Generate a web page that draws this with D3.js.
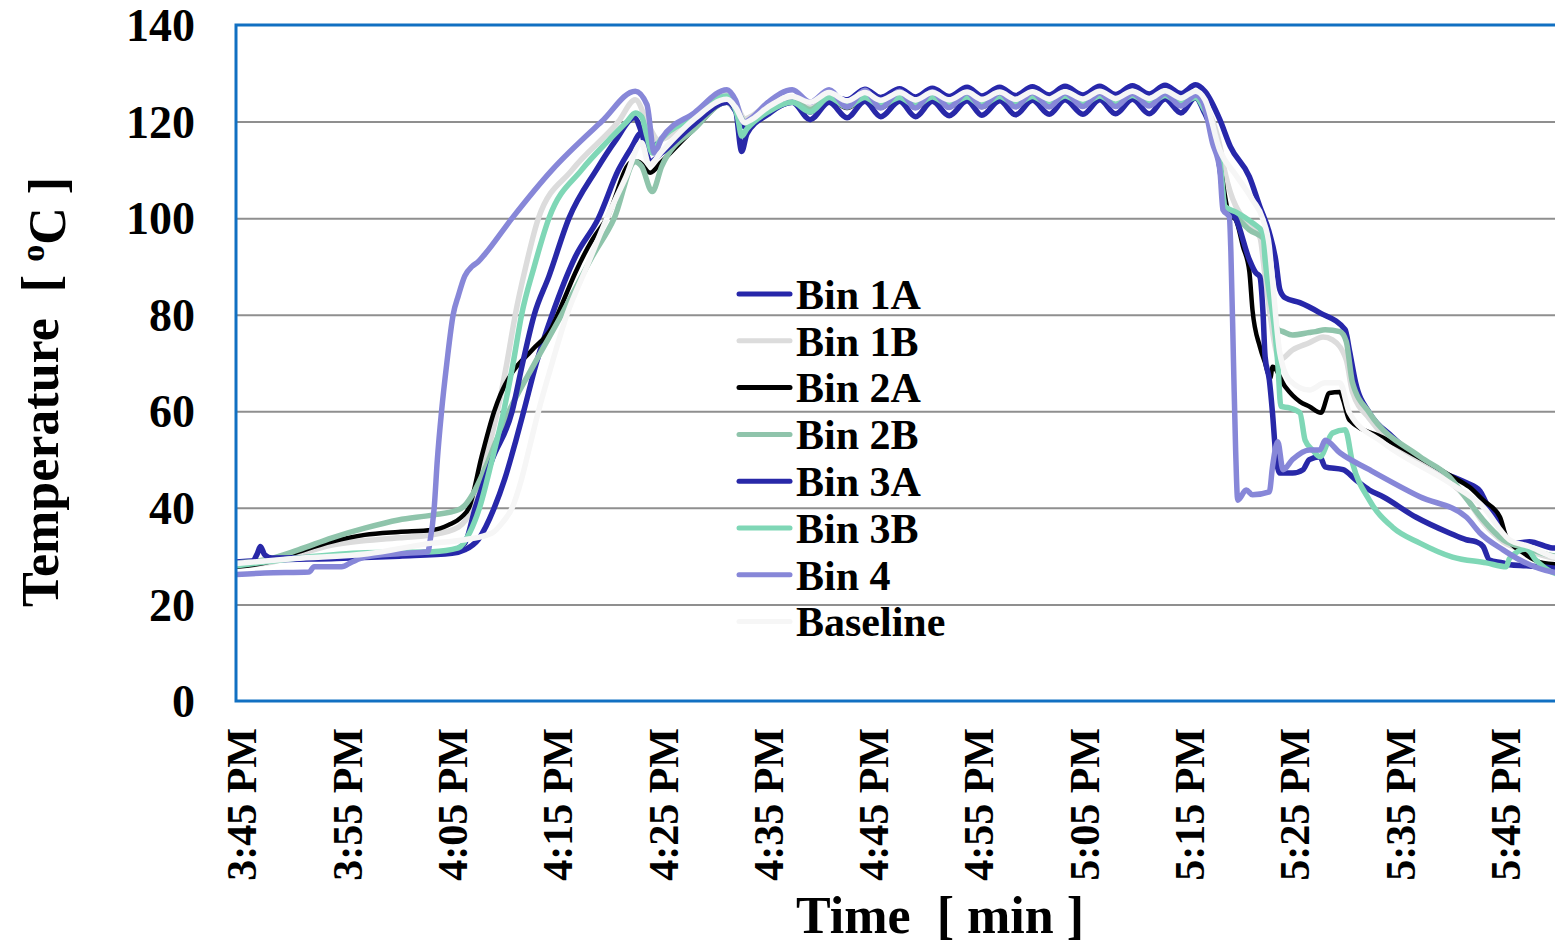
<!DOCTYPE html>
<html>
<head>
<meta charset="utf-8">
<script src="https://cdn.jsdelivr.net/npm/d3@7"></script>
<style>
  html, body { margin: 0; padding: 0; background: #fff; }
  svg text { font-family: "Liberation Serif", "Times New Roman", serif; font-weight: bold; fill: #000; }
</style>
</head>
<body>
<div id="chart"></div>
<script>
// each point: [minutes after 3:45 PM, temperature in degC]
const bin1A = [
  [-0.5,28.8],[3,29.2],[9,29.5],[15,30],[20,30.6],[21.2,31.3],[22.5,33.5],[24,40],[25,46],[26,53.5],[26.8,60],[28,70],[29.5,80],[31.7,92],[33.9,100],[35.8,110],[37,114.5],[38,117.7],[38.7,114],[39.9,116.5],[43,120.8],[46.1,124],[47.1,121.5],[47.7,119],[48.3,119.5],[50,122],
  [52.3,124],[54,122],[55.8,125.3],[57.5,124.5],[59.2,126.7],[60.7,125],[62.5,126.8],[64,125.1],[65.6,126.9],[67.2,125.2],[68.9,127.1],[70.3,125.3],[72,127.1],[73.5,125.4],[75.1,127.2],[76.7,125.5],[78.2,127.3],[79.9,125.5],[81.5,127.3],[83,125.6],[84.6,127.4],[86.2,125.7],[87.7,127.5],[89.2,125.8],[90.6,127.6],
  [91.5,126.2],[92.9,120.4],[93.9,114.8],[95.7,108.6],[96.7,102.4],[97.6,97],[98.2,91.4],[98.6,85.2],[99.1,83.5],[100.5,82.5],[102.4,80.4],[104.8,76.9],[105.2,72.7],[105.8,65.9],[107.1,59.7],[109.3,54.7],[112.8,48.5],[116.3,45.2],[117.6,43.5],[118.2,41],[119.5,37],[120.1,33.7],[121,32.7],[122.3,33],[124.5,31.7],[127,31.5]
];
const bin1B = [
  [-0.5,28],[2.2,28.5],[8.6,32.3],[15,33.8],[18.1,34.4],[20.6,36],[21.9,40],[23.1,49.3],[24.3,60],[25.2,70],[26,80],[27,90],[28.2,100],[31.4,110],[35.8,120],[37.4,124.5],[38.7,119],[39.6,116.2],[43,121.5],[46.1,125.8],[47.1,123],[47.8,120.5],[48.3,121],[50,123.5],
  [52.3,125],[54,123.5],[55.8,125.6],[57.5,124],[59.2,125.7],[60.7,124.1],[62.5,125.7],[64,124.2],[65.6,125.8],[67.2,124.2],[68.9,125.8],[70.3,124.3],[72,125.9],[73.5,124.3],[75.1,125.9],[76.7,124.4],[78.2,126],[79.9,124.4],[81.5,126],[83,124.5],[84.6,126.1],[86.2,124.5],[87.7,126.1],[89.2,124.6],[90.6,125.8],
  [91.3,124],[92.9,115],[93.4,109.4],[95.7,98.3],[96.7,96.1],[97.2,87.9],[98.6,70.7],[99.8,72.7],[101.4,74.2],[102.7,75.4],[103.6,74.8],[104.9,70.7],[105.5,64],[107.1,58.5],[111.9,49.5],[116.3,42],[117.9,37],[119.8,33],[122.3,31],[125,29.5],[127,29.3]
];
const bin2A = [
  [-0.5,27.8],[2.2,28.6],[5.4,30.9],[8.6,33],[11.7,34.4],[14.9,35],[18.1,35.4],[19.7,36.5],[20.9,38.1],[21.6,40],[22.8,50.6],[24,60],[24.6,63.5],[25.7,68],[27.6,72.7],[29.5,77.5],[30.4,82],[31.7,88.7],[33.3,95.5],[34.7,100],[37.1,111.7],[37.7,111.7],[38.8,109.4],[39.9,111.7],[43,118.5],[46.1,124],[47.1,122],[48,119.5],[50,122.5],
  [52.3,124.3],[54,122.3],[55.8,124.8],[57.5,122.8],[59.2,124.8],[60.7,122.9],[62.5,124.9],[64,122.9],[65.6,124.9],[67.2,123],[68.9,125],[70.3,123],[72,125],[73.5,123.1],[75.1,125.1],[76.7,123.1],[78.2,125.1],[79.9,123.2],[81.5,125.2],[83,123.2],[84.6,125.2],[86.2,123.3],[87.7,125.3],[89.2,123.3],[90.6,124.8],
  [91.3,123],[92.9,111],[93.8,100.7],[94.4,99.7],[95.1,94.1],[95.7,89],[96,81],[96.7,73.4],[97.2,70],[97.7,66.9],[97.9,69.2],[99.1,65.1],[100.5,62],[101.4,61],[102.5,59.7],[103.3,63.8],[104.3,64],[104.6,62.4],[105.2,58.2],[108.4,54.5],[115,46.4],[116.6,44.3],[117.9,41.6],[119.5,38.1],[120.1,34],[121.7,30.7],[123.6,28.6],[127,28]
];
const bin2B = [
  [-0.5,28.6],[2.2,29.2],[5.4,31.3],[8.6,33.8],[11.7,35.8],[14.9,37.5],[18.1,38.5],[20.6,39.6],[21.2,40.5],[22,43],[23.1,48],[24.4,55],[25.4,60],[27.6,69],[30.4,80],[33.3,92],[35.4,100],[37.4,111.7],[38,110.7],[39,105.5],[39.9,110.7],[43,118.5],[46.1,124],[47.1,122],[48,119.5],[50,122.5],
  [52.3,124.5],[54,122.5],[55.8,125],[57.5,123],[59.2,125],[60.7,123.1],[62.5,125.1],[64,123.1],[65.6,125.1],[67.2,123.2],[68.9,125.2],[70.3,123.2],[72,125.2],[73.5,123.3],[75.1,125.3],[76.7,123.3],[78.2,125.3],[79.9,123.4],[81.5,125.4],[83,123.4],[84.6,125.4],[86.2,123.5],[87.7,125.5],[89.2,123.5],[90.6,125],
  [91.3,123],[92.9,110.5],[93.4,102],[94.1,101],[95.7,97.6],[97.2,95.5],[98,80],[98.4,77],[98.9,76.5],[99.8,75.8],[101.4,76.3],[102,76.5],[102.9,76.9],[104.3,76.5],[104.9,74.5],[105.5,65.9],[107.1,59.7],[111.9,50.6],[114.7,46.4],[116.3,42],[117.9,37.5],[119.8,33.4],[122.3,31.5],[124.8,30],[127,29.8]
];
const bin3A = [
  [-0.5,28.5],[1,28.8],[1.5,30.5],[1.8,32],[2.2,30.3],[2.9,29.6],[8.6,29.8],[15,30.5],[19.7,30.9],[21.2,32.7],[22.2,40],[23.8,50],[25.7,60],[26.7,70],[27.8,80],[29.2,88],[31.1,100],[33.7,110],[35.5,116],[37.3,120.8],[38,117.7],[38.8,111.7],[39.9,113.5],[43,119.5],[46.1,124],[46.9,122.5],[47.5,113.8],[48,117.5],[50,121.5],
  [52.3,124],[54,120.4],[55.8,124],[57.5,120.8],[59.2,124.2],[60.7,121],[62.5,124.2],[64,121],[65.6,124.2],[67.2,121.2],[68.9,124.3],[70.3,121.3],[72,124.3],[73.5,121.4],[75.1,124.4],[76.7,121.5],[78.2,124.5],[79.9,121.5],[81.5,124.5],[83,121.6],[84.6,124.6],[86.2,121.6],[87.7,124.7],[89.2,121.8],[90.6,125],
  [91.3,122.5],[92.9,110.5],[93.4,102],[94.4,100],[95.7,91.4],[96.3,88.7],[96.7,87.9],[97,80.4],[97.2,71.3],[97.6,66.5],[97.9,59.7],[98.2,51.4],[98.6,47.2],[99.8,47.2],[100.8,47.9],[101.4,50],[102.4,50.6],[102.9,48.5],[104.6,47.9],[105.8,45.8],[107.1,43.7],[108.4,42.3],[111.5,38.1],[114.7,34.8],[116.3,33.4],[117.2,33],[117.9,32],[118.5,29.2],[119.8,28.6],[120.4,28.2],[122,28],[127,27]
];
const bin3B = [
  [-0.5,28],[5.4,29.6],[11.7,30.7],[18.1,30.9],[20.6,31.7],[21.7,35],[22.6,40],[23.8,50],[24.9,60],[25.8,70],[26.6,80],[27.8,90],[29.2,100],[32.3,110],[34.9,116.2],[36.6,120],[37.4,121.8],[38,121],[38.5,117],[39,113.5],[39.4,115],[43,121],[46.1,125.3],[47.1,121],[47.5,117],[48,118.5],[50,122],
  [52.3,124],[54,122],[55.8,125],[57.5,123.2],[59.2,125],[60.7,123.3],[62.5,125],[64,123.3],[65.6,125.1],[67.2,123.4],[68.9,125.1],[70.3,123.4],[72,125.2],[73.5,123.5],[75.1,125.2],[76.7,123.5],[78.2,125.3],[79.9,123.6],[81.5,125.3],[83,123.6],[84.6,125.4],[86.2,123.7],[87.7,125.4],[89.2,123.7],[90.6,125],
  [91.3,123],[92.9,112],[93.4,102.4],[94.4,101.3],[96,99],[97,97],[97.2,91.4],[97.7,83],[97.9,80.4],[98.4,70],[98.7,61],[99.5,60.7],[100.5,59.7],[101,54],[101.7,52],[102.4,50.6],[103.6,55.5],[104.8,56.2],[105.5,49.3],[107.1,41.6],[109.3,36],[111.9,32.7],[115,29.8],[118.2,28.6],[120.1,27.8],[120.4,29.5],[122,31.5],[122.9,29.2],[125,26.3],[127,26]
];
const bin4 = [
  [-0.5,26.2],[2.2,26.5],[6.4,26.7],[6.9,27.8],[9.5,27.8],[10.5,28.8],[11.7,29.8],[14.9,30.5],[17.7,30.9],[17.9,33],[18.3,40],[18.6,50],[19,60],[19.5,70],[20.1,80],[20.6,84],[21.2,88],[21.9,90],[22.5,91],[23.1,92.5],[25.7,100],[29.5,110],[34.2,120],[37.4,126.3],[38.5,123.5],[39.2,113.5],[39.9,116.5],[43,121.8],[46.1,126.6],[46.9,124.5],[47.7,119.8],[48.3,120.5],[50,124],
  [52.3,126.6],[54,124],[55.8,126.6],[57.5,123],[59.2,126.5],[60.7,122.8],[62.5,126.3],[64,122.8],[65.6,126.2],[67.2,122.9],[68.9,126],[70.3,123],[72,126],[73.5,123],[75.1,126],[76.7,123],[78.2,125.9],[79.9,123.1],[81.5,125.9],[83,123.1],[84.6,125.8],[86.2,123.2],[87.7,125.8],[89.2,123.2],[90.6,125.5],
  [91.3,124],[92.2,115.6],[92.9,110],[93.2,101.7],[93.8,100.3],[93.95,93],[94.2,70],[94.4,52],[94.6,41.6],[95.4,43.7],[96,42.7],[97.6,43.3],[97.9,48.5],[98.4,53.7],[98.9,47.9],[99.8,50],[101.4,52],[102.4,52],[102.9,54],[104.3,51.4],[107.1,47.9],[111.9,42.3],[116.3,38.1],[117.6,34.8],[119.8,31.3],[121.4,29.2],[124.5,26.7],[127,26.3]
];
const baseline = [
  [-0.5,28.5],[5,29.5],[12,30.5],[18.1,32.7],[21.2,33.4],[23.8,34.8],[24.8,37],[25.7,40],[26.6,46],[27.4,53],[28.2,60],[29.5,70],[30.9,80],[32.8,90],[34.7,100],[36.5,108.5],[38,115.6],[38.7,111],[39.9,113.8],[43,120.5],[46.1,124.6],[46.9,123],[47.8,119.8],[48.5,120.5],[50,123],
  [52.3,125.2],[54,124],[55.8,126],[57.5,124.3],[59.2,126],[60.7,124.4],[62.5,126],[64,124.5],[65.6,126],[67.2,124.5],[68.9,126.1],[70.3,124.6],[72,126.1],[73.5,124.6],[75.1,126.2],[76.7,124.7],[78.2,126.2],[79.9,124.7],[81.5,126.3],[83,124.8],[84.6,126.3],[86.2,124.8],[87.7,126.4],[89.2,124.9],[90.6,126.3],
  [91.5,124.5],[92.9,114],[94.4,109],[96,103.8],[97,99.7],[97.6,94.1],[97.9,87.2],[98.6,72],[99.5,66.5],[101.4,64.4],[102.9,65.9],[104.3,65.9],[105.2,59.7],[108.4,53.5],[114.7,45.2],[117.9,40.2],[120.4,33.4],[122.3,32],[124.8,29.8],[127,29.5]
];

const seriesNames = ["Bin 1A", "Bin 1B", "Bin 2A", "Bin 2B", "Bin 3A", "Bin 3B", "Bin 4", "Baseline"];
const seriesData = [bin1A, bin1B, bin2A, bin2B, bin3A, bin3B, bin4, baseline];
const seriesColors = ["#2727aa", "#dcdcdc", "#000000", "#8fc4ab", "#2828a8", "#7fd7b6", "#8787d8", "#f6f6f6"];
const yTicks = [0, 20, 40, 60, 80, 100, 120, 140];
const xTickLabels = ["3:45 PM", "3:55 PM", "4:05 PM", "4:15 PM", "4:25 PM", "4:35 PM", "4:45 PM",
  "4:55 PM", "5:05 PM", "5:15 PM", "5:25 PM", "5:35 PM", "5:45 PM"];

const W = 1555, H = 943;
const plot = { left: 236, top: 25, right: 1580, bottom: 701 };

const parseTime = d3.timeParse("%I:%M %p");
const start = parseTime(xTickLabels[0]);
const toDate = m => new Date(start.getTime() + m * 60000);

const svg = d3.select("#chart").append("svg")
  .attr("width", W)
  .attr("height", H)
  .style("display", "block");

const x = d3.scaleTime()
  .domain([toDate(-0.52), toDate(127.1)])
  .range([plot.left, plot.right]);

const y = d3.scaleLinear()
  .domain([0, 140])
  .range([plot.bottom, plot.top]);

svg.append("defs").append("clipPath").attr("id", "clip")
  .append("rect")
  .attr("x", plot.left).attr("y", plot.top)
  .attr("width", plot.right - plot.left).attr("height", plot.bottom - plot.top);

// grid lines
svg.append("g")
  .attr("class", "grid")
  .attr("transform", `translate(${plot.left},0)`)
  .call(d3.axisLeft(y).tickValues(yTicks.slice(1, -1)).tickSize(-(plot.right - plot.left)).tickFormat(""))
  .call(g => g.select(".domain").remove())
  .selectAll("line")
  .attr("stroke", "#8f8f8f")
  .attr("stroke-width", 2);

// y axis labels
svg.append("g")
  .attr("transform", `translate(${plot.left},0)`)
  .call(d3.axisLeft(y).tickValues(yTicks).tickSize(0).tickPadding(41))
  .call(g => g.select(".domain").remove())
  .selectAll("text")
  .style("font-size", "46px")
  .attr("dy", "0.34em");

// x axis labels
svg.append("g")
  .attr("transform", `translate(0,${plot.bottom})`)
  .call(d3.axisBottom(x)
    .tickValues(xTickLabels.map(s => parseTime(s)))
    .tickFormat(d3.timeFormat("%-I:%M %p"))
    .tickSize(0))
  .call(g => g.select(".domain").remove())
  .selectAll("text")
  .style("font-size", "42px")
  .style("text-anchor", "end")
  .attr("x", -27)
  .attr("y", 0)
  .attr("dy", "0.34em")
  .attr("transform", "rotate(-90)");

// lines
const line = d3.line()
  .x(d => x(toDate(d[0])))
  .y(d => y(d[1]))
  .curve(d3.curveMonotoneX);

const lines = svg.append("g").attr("clip-path", "url(#clip)");
seriesData.forEach((data, i) => {
  lines.append("path")
    .datum(data)
    .attr("fill", "none")
    .attr("stroke", seriesColors[i])
    .attr("stroke-width", i === 2 ? 4.5 : 5.5)
    .attr("stroke-linejoin", "round")
    .attr("stroke-linecap", "round")
    .attr("d", line);
});

// plot border
svg.append("rect")
  .attr("x", plot.left)
  .attr("y", plot.top)
  .attr("width", plot.right - plot.left)
  .attr("height", plot.bottom - plot.top)
  .attr("fill", "none")
  .attr("stroke", "#1170c2")
  .attr("stroke-width", 3);

// legend
const legend = svg.append("g").attr("transform", "translate(737,294)");
seriesNames.forEach((name, i) => {
  const row = legend.append("g").attr("transform", `translate(0,${i * 46.8})`);
  row.append("line")
    .attr("x1", 2).attr("x2", 53)
    .attr("stroke", seriesColors[i])
    .attr("stroke-width", 5)
    .attr("stroke-linecap", "round");
  row.append("text")
    .attr("x", 59)
    .attr("dy", "0.35em")
    .style("font-size", "42px")
    .text(name);
});

// axis titles
const yTitle = svg.append("text")
  .attr("transform", "translate(58,392) rotate(-90)")
  .style("text-anchor", "middle")
  .style("font-size", "52px")
  .style("white-space", "pre");
yTitle.append("tspan").text("Temperature  [ ");
yTitle.append("tspan").attr("dy", "-0.4em").style("font-size", "34px").text("o");
yTitle.append("tspan").attr("dy", "0.4em").text("C ]");

svg.append("text")
  .attr("x", 940)
  .attr("y", 933)
  .style("text-anchor", "middle")
  .style("font-size", "52px")
  .style("white-space", "pre")
  .text("Time  [ min ]");
</script>
</body>
</html>
